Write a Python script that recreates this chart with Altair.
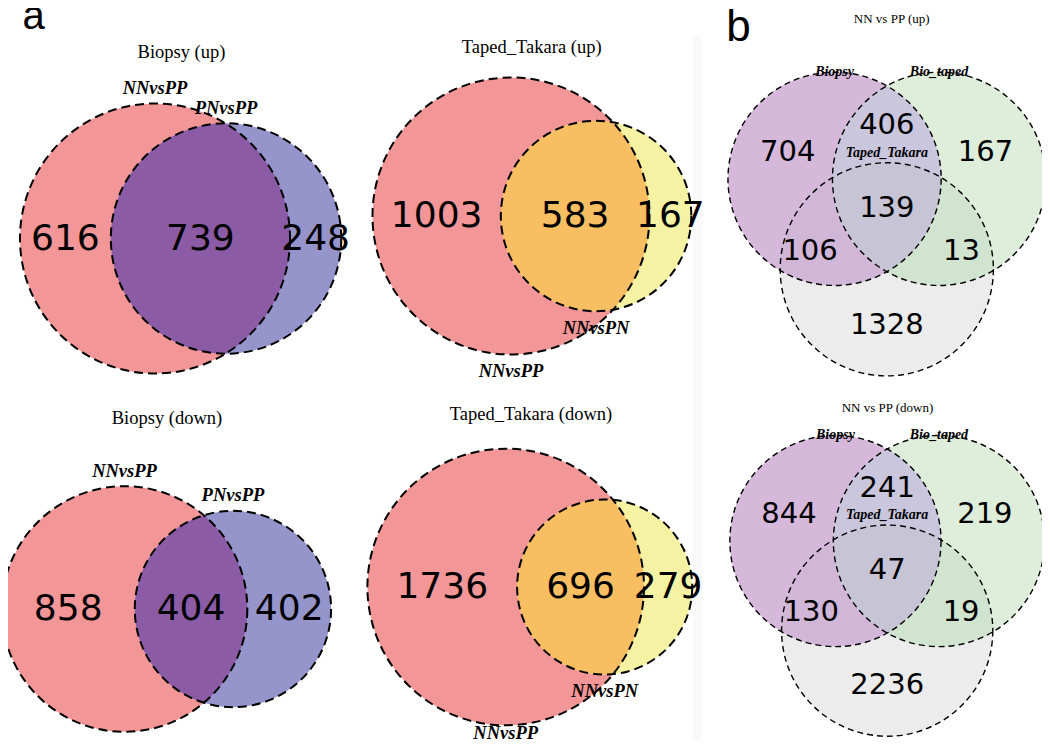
import numpy as np
import pandas as pd
import altair as alt

# ---------------- data ----------------
panel_letters = ["a", "b"]

venn2_titles = ["Biopsy (up)", "Taped_Takara (up)", "Biopsy (down)", "Taped_Takara (down)"]
venn2_set_a = ["NNvsPP", "NNvsPP", "NNvsPP", "NNvsPP"]
venn2_set_b = ["PNvsPP", "NNvsPN", "PNvsPP", "NNvsPN"]
venn2_only_a = [616, 1003, 858, 1736]
venn2_both = [739, 583, 404, 696]
venn2_only_b = [248, 167, 402, 279]

venn3_titles = ["NN vs PP (up)", "NN vs PP (down)"]
venn3_sets = ["Biopsy", "Bio_taped", "Taped_Takara"]
venn3_regions = ["100", "010", "110", "001", "101", "011", "111"]
venn3_up = [704, 167, 406, 1328, 106, 13, 139]
venn3_down = [844, 219, 241, 2236, 130, 19, 47]

# ---------------- layout / style (page pixel units) ----------------
OFF = 8
W, H = 1034, 732
V2_LAYOUT = [
    {"cx": 155.0, "cy": 238.5, "scale": 260.3, "labels": "top", "title": (181.5, 51.5),
     "colors": ("#f39697", "#9595cc", "#8b5ba6")},
    {"cx": 511.0, "cy": 216.0, "scale": 258.1, "labels": "bottom", "title": (531.7, 47.0),
     "colors": ("#f39697", "#f5f3a3", "#f8be62")},
    {"cx": 124.5, "cy": 609.0, "scale": 250.0, "labels": "top", "title": (167.0, 418.0),
     "colors": ("#f39697", "#9595cc", "#8b5ba6")},
    {"cx": 505.7, "cy": 587.0, "scale": 258.8, "labels": "bottom", "title": (531.0, 413.7),
     "colors": ("#f39697", "#f5f3a3", "#f8be62")},
]
LABEL_MAX_Y = 733.0
V3_LAYOUT = [
    {"gx": 886.8, "gy": 209.0, "r": 106.6, "title": (891.7, 18.5)},
    {"gx": 887.2, "gy": 570.9, "r": 105.6, "title": (887.5, 407.5)},
]
V3_SPACING = 0.98
# subset-label anchor offsets from the diagram centre, in radius units
V3_LABEL_OFFSETS = {"100": (-0.93, -0.535), "010": (0.925, -0.535), "110": (0.0, -0.787),
                    "001": (0.0, 1.085), "101": (-0.72, 0.39), "011": (0.70, 0.39),
                    "111": (0.0, -0.01)}
V3_COLORS = {"100": "#d5b8da", "010": "#deeeda", "001": "#ececec", "110": "#c9c6dd",
             "101": "#d2b6d8", "011": "#d0e4cf", "111": "#c6c4d5"}
LETTERS = [(33.5, 29.0, 40), (738.5, 41.0, 44)]
STRIP = (693, 702, 36)


def lens_area(r1, r2, d):
    if d >= r1 + r2:
        return 0.0
    if d <= abs(r1 - r2):
        return np.pi * min(r1, r2) ** 2
    a1 = np.arccos(np.clip((d * d + r1 * r1 - r2 * r2) / (2 * d * r1), -1, 1))
    a2 = np.arccos(np.clip((d * d + r2 * r2 - r1 * r1) / (2 * d * r2), -1, 1))
    k = 0.5 * np.sqrt(max((-d + r1 + r2) * (d + r1 - r2) * (d - r1 + r2) * (d + r1 + r2), 0))
    return r1 * r1 * a1 + r2 * r2 * a2 - k


def solve_distance(r1, r2, target):
    lo, hi = abs(r1 - r2) + 1e-9, r1 + r2
    for _ in range(100):
        mid = (lo + hi) / 2
        if lens_area(r1, r2, mid) > target:
            lo = mid
        else:
            hi = mid
    return (lo + hi) / 2


def band(circs, key, fill, n=900):
    xl = max(c[0] - c[2] for c in circs)
    xr = min(c[0] + c[2] for c in circs)
    xs = np.linspace(xl, xr, n)
    lo = np.full(n, -np.inf)
    hi = np.full(n, np.inf)
    for cx, cy, r in circs:
        h = np.sqrt(np.clip(r * r - (xs - cx) ** 2, 0, None))
        lo = np.maximum(lo, cy - h)
        hi = np.minimum(hi, cy + h)
    ok = hi >= lo
    return [{"id": key, "x": float(x), "y": float(a), "y2": float(b), "fill": fill}
            for x, a, b in zip(xs[ok], lo[ok], hi[ok])]


circ_rows, lens_rows, triple_rows = [], [], []
num_rows, set_rows, title_rows = [], [], []
order = 0

# ---- panel a: area-proportional two-set diagrams ----
for i, lay in enumerate(V2_LAYOUT):
    a, ab, b = venn2_only_a[i], venn2_both[i], venn2_only_b[i]
    tot = a + ab + b
    ra = np.sqrt((a + ab) / tot / np.pi)
    rb = np.sqrt((b + ab) / tot / np.pi)
    d = solve_distance(ra, rb, ab / tot)
    s = lay["scale"]
    RA, RB, D = ra * s, rb * s, d * s
    ax, ay = lay["cx"], lay["cy"]
    bx, by = ax + D, ay
    ca, cb, cab = lay["colors"]
    for (x, y, r, c) in [(ax, ay, RA, ca), (bx, by, RB, cb)]:
        circ_rows.append({"x": x, "y": y, "size": (2 * r) ** 2, "fill": c, "order": order, "kind": "v2"})
        order += 1
    lens_rows += band([(ax, ay, RA), (bx, by, RB)], f"v2_{i}", cab)
    xs_num = [((ax - RA) + (bx - RB)) / 2, ((bx - RB) + (ax + RA)) / 2, ((ax + RA) + (bx + RB)) / 2]
    for x, v in zip(xs_num, [a, ab, b]):
        num_rows.append({"x": x, "y": ay, "text": str(v), "fs": 36})
    if lay["labels"] == "top":
        set_rows.append({"x": ax, "y": ay - RA - 15.5, "text": venn2_set_a[i], "fs": 18.5})
        set_rows.append({"x": bx, "y": by - RB - 15.5, "text": venn2_set_b[i], "fs": 18.5})
    else:
        set_rows.append({"x": ax, "y": min(ay + RA + 16.5, LABEL_MAX_Y), "text": venn2_set_a[i], "fs": 18.5})
        set_rows.append({"x": bx, "y": min(by + RB + 16.5, LABEL_MAX_Y), "text": venn2_set_b[i], "fs": 18.5})
    title_rows.append({"x": lay["title"][0], "y": lay["title"][1], "text": venn2_titles[i], "fs": 18.5})

# ---- panel b: unweighted three-set diagrams ----
for j, (lay, vals) in enumerate(zip(V3_LAYOUT, [venn3_up, venn3_down])):
    r = lay["r"]
    dd = V3_SPACING * r
    R = dd / np.sqrt(3)
    gx, gy = lay["gx"], lay["gy"]
    cents = [(gx - dd / 2, gy - R / 2), (gx + dd / 2, gy - R / 2), (gx, gy + R)]
    for k, (cx, cy) in enumerate(cents):
        code = ["100", "010", "001"][k]
        circ_rows.append({"x": cx, "y": cy, "size": (2 * r) ** 2, "fill": V3_COLORS[code],
                          "order": order, "kind": "v3"})
        order += 1
    C = [(cx, cy, r) for cx, cy in cents]
    lens_rows += band([C[0], C[1]], f"v3_{j}_ab", V3_COLORS["110"])
    lens_rows += band([C[0], C[2]], f"v3_{j}_ac", V3_COLORS["101"])
    lens_rows += band([C[1], C[2]], f"v3_{j}_bc", V3_COLORS["011"])
    triple_rows += band(C, f"v3_{j}_abc", V3_COLORS["111"])
    for code, v in zip(venn3_regions, vals):
        ox, oy = V3_LABEL_OFFSETS[code]
        num_rows.append({"x": gx + ox * r, "y": gy + oy * r, "text": str(v), "fs": 29})
    set_rows.append({"x": cents[0][0], "y": cents[0][1] - r, "text": venn3_sets[0], "fs": 14})
    set_rows.append({"x": cents[1][0], "y": cents[1][1] - r, "text": venn3_sets[1], "fs": 14})
    set_rows.append({"x": cents[2][0], "y": cents[2][1] - r - 10, "text": venn3_sets[2], "fs": 14})
    title_rows.append({"x": lay["title"][0], "y": lay["title"][1], "text": venn3_titles[j], "fs": 13})

letter_rows = [{"x": p[0], "y": p[1], "text": t, "fs": p[2]} for t, p in zip(panel_letters, LETTERS)]

circ_df = pd.DataFrame(circ_rows)
lens_df = pd.DataFrame(lens_rows)
triple_df = pd.DataFrame(triple_rows)
num_df = pd.DataFrame(num_rows)
set_df = pd.DataFrame(set_rows)
title_df = pd.DataFrame(title_rows)
letter_df = pd.DataFrame(letter_rows)

XS = alt.Scale(domain=[OFF, OFF + W], nice=False, zero=False)
YS = alt.Scale(domain=[OFF, OFF + H], nice=False, zero=False, reverse=True)


def X():
    return alt.X("x:Q", scale=XS, axis=None)


def Y():
    return alt.Y("y:Q", scale=YS, axis=None)


strip = alt.Chart(pd.DataFrame({"k": [0]})).mark_rect(color="#f9f9f9").encode(
    x=alt.value(STRIP[0] - OFF), x2=alt.value(STRIP[1] - OFF),
    y=alt.value(STRIP[2] - OFF), y2=alt.value(H))

fills = alt.Chart(circ_df).mark_point(shape="circle", filled=True, opacity=1, fillOpacity=1,
                                      strokeWidth=0).encode(
    x=X(), y=Y(), size=alt.Size("size:Q", scale=None), fill=alt.Fill("fill:N", scale=None),
    order=alt.Order("order:Q"))

lenses = alt.Chart(lens_df).mark_area(opacity=1, fillOpacity=1).encode(
    x=X(), y=Y(), y2=alt.Y2("y2:Q"), detail="id:N", fill=alt.Fill("fill:N", scale=None))

triples = alt.Chart(triple_df).mark_area(opacity=1, fillOpacity=1).encode(
    x=X(), y=Y(), y2=alt.Y2("y2:Q"), detail="id:N", fill=alt.Fill("fill:N", scale=None))

outlines2 = alt.Chart(circ_df).transform_filter(alt.datum.kind == "v2").mark_point(
    shape="circle", filled=False, opacity=1, stroke="black", strokeWidth=2.0,
    strokeDash=[9, 5]).encode(x=X(), y=Y(), size=alt.Size("size:Q", scale=None))

outlines3 = alt.Chart(circ_df).transform_filter(alt.datum.kind == "v3").mark_point(
    shape="circle", filled=False, opacity=1, stroke="black", strokeWidth=1.4,
    strokeDash=[6, 4]).encode(x=X(), y=Y(), size=alt.Size("size:Q", scale=None))

nums = alt.Chart(num_df).mark_text(font="DejaVu Sans", align="center", baseline="middle",
                                   color="black").encode(
    x=X(), y=Y(), text="text:N", size=alt.Size("fs:Q", scale=None))

sets = alt.Chart(set_df).mark_text(font="Liberation Serif", fontStyle="italic", fontWeight="bold",
                                   align="center", baseline="middle", color="black").encode(
    x=X(), y=Y(), text="text:N", size=alt.Size("fs:Q", scale=None))

titles = alt.Chart(title_df).mark_text(font="Liberation Serif", align="center", baseline="middle",
                                       color="black").encode(
    x=X(), y=Y(), text="text:N", size=alt.Size("fs:Q", scale=None))

letters = alt.Chart(letter_df).mark_text(font="Liberation Sans", align="center",
                                         baseline="alphabetic", color="black").encode(
    x=X(), y=Y(), text="text:N", size=alt.Size("fs:Q", scale=None))

chart = alt.layer(strip, fills, lenses, triples, outlines2, outlines3, nums, sets, titles,
                  letters).properties(
    width=W, height=H, padding=0, autosize=alt.AutoSizeParams(type="none"), background="white"
).configure_view(stroke=None)

chart.save("out.html", embed_options={"renderer": "svg", "actions": False})
